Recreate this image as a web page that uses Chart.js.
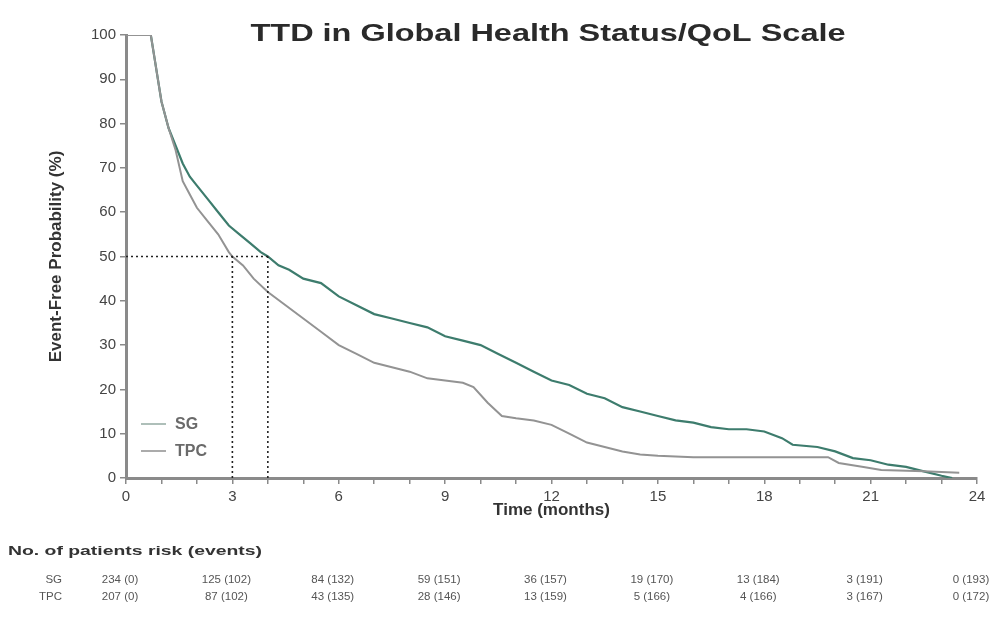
<!DOCTYPE html>
<html>
<head>
<meta charset="utf-8">
<script src="https://cdn.jsdelivr.net/npm/chart.js@4"></script>
<style>
  body { margin: 0; background: #fff; }
  canvas { display: block; }
</style>
</head>
<body>
<canvas id="ttdChart" width="1005" height="617"></canvas>
<script>
// Kaplan-Meier style curves (months, %)
const sgTime = [0, 0.7, 0.8, 0.9, 1.0, 1.2, 1.4, 1.6, 1.8, 2.0, 2.3, 2.6, 2.9, 3.2, 3.5, 3.8, 4.0, 4.3, 4.6, 5.0, 5.5, 6.0, 6.5, 7.0, 7.5, 8.0, 8.5, 9.0, 9.5, 10.0, 10.5, 11.0, 11.5, 12.0, 12.5, 13.0, 13.5, 14.0, 14.5, 15.0, 15.5, 16.0, 16.5, 17.0, 17.5, 18.0, 18.5, 18.8, 19.5, 20.0, 20.5, 21.0, 21.5, 22.0, 22.5, 23.0, 23.3];
const sgProb = [100, 100, 95, 90, 85, 79, 75, 71, 68, 66, 63, 60, 57, 55, 53, 51, 50, 48, 47, 45, 44, 41, 39, 37, 36, 35, 34, 32, 31, 30, 28, 26, 24, 22, 21, 19, 18, 16, 15, 14, 13, 12.5, 11.5, 11, 11, 10.5, 9, 7.5, 7, 6, 4.5, 4, 3, 2.5, 1.5, 0.5, 0];

const tpcTime = [0, 0.7, 0.8, 0.9, 1.0, 1.2, 1.4, 1.6, 1.8, 2.0, 2.3, 2.6, 2.9, 3.0, 3.3, 3.6, 4.0, 4.5, 5.0, 5.5, 6.0, 6.5, 7.0, 7.5, 8.0, 8.5, 9.0, 9.5, 9.8, 10.2, 10.6, 11.0, 11.5, 12.0, 12.5, 13.0, 13.5, 14.0, 14.5, 15.0, 16.0, 19.8, 20.1, 20.8, 21.3, 22.5, 23.5];
const tpcProb = [100, 100, 95, 90, 85, 79, 74, 67, 64, 61, 58, 55, 51, 50, 48, 45, 42, 39, 36, 33, 30, 28, 26, 25, 24, 22.5, 22, 21.5, 20.5, 17, 14, 13.5, 13, 12, 10, 8, 7, 6, 5.3, 5, 4.7, 4.7, 3.4, 2.5, 1.8, 1.5, 1.2];

// medians marked with dotted lines
const medianLevel = 50;
const medianTPC = 3;
const medianSG = 4;

// number at risk table
const riskTimes = [0, 3, 6, 9, 12, 15, 18, 21, 24];
const riskSG = ["234 (0)", "125 (102)", "84 (132)", "59 (151)", "36 (157)", "19 (170)", "13 (184)", "3 (191)", "0 (193)"];
const riskTPC = ["207 (0)", "87 (102)", "43 (135)", "28 (146)", "13 (159)", "5 (166)", "4 (166)", "3 (167)", "0 (172)"];

const FONT = "'Liberation Sans', Arial, sans-serif";
const sgColor = "#3d7c6d";
const tpcColor = "#939393";

function toPoints(xs, ys) {
  return xs.map((x, i) => ({ x: x, y: ys[i] }));
}

// draw text squeezed/stretched to a given width (the source image is wide)
function fitText(ctx, text, cx, cy, w) {
  const m = ctx.measureText(text).width;
  ctx.save();
  ctx.translate(cx, cy);
  ctx.scale(w / m, 1);
  ctx.fillText(text, 0, 0);
  ctx.restore();
}

const extrasPlugin = {
  id: "extras",
  afterDraw(chart) {
    const ctx = chart.ctx;
    const xs = chart.scales.x;
    ctx.save();
    ctx.textBaseline = "middle";

    // title
    ctx.fillStyle = "#2a2a2a";
    ctx.font = "bold 24px " + FONT;
    ctx.textAlign = "center";
    fitText(ctx, "TTD in Global Health Status/QoL Scale", 548, 34, 595);

    // legend inside plot
    ctx.font = "bold 16px " + FONT;
    ctx.textAlign = "left";
    const legend = [["SG", "#aebfb9", 424], ["TPC", "#ababab", 451]];
    legend.forEach(function (item) {
      ctx.strokeStyle = item[1];
      ctx.lineWidth = 2;
      ctx.beginPath();
      ctx.moveTo(141, item[2]);
      ctx.lineTo(166, item[2]);
      ctx.stroke();
      ctx.fillStyle = "#6a6a6a";
      ctx.fillText(item[0], 175, item[2] + 1);
    });

    // risk table
    ctx.fillStyle = "#333";
    ctx.font = "bold 13px " + FONT;
    ctx.textAlign = "left";
    fitText(ctx, "No. of patients risk (events)", 8, 551, 254);

    ctx.font = "11.5px " + FONT;
    ctx.fillStyle = "#555";
    ctx.textAlign = "right";
    ctx.fillText("SG", 62, 580);
    ctx.fillText("TPC", 62, 597);
    ctx.textAlign = "center";
    riskTimes.forEach(function (t, i) {
      const px = xs.getPixelForValue(t) - 6;
      ctx.fillText(riskSG[i], px, 580);
      ctx.fillText(riskTPC[i], px, 597);
    });
    ctx.restore();
  }
};

const dotted = {
  borderColor: "#222",
  borderWidth: 1.6,
  borderDash: [2, 3],
  pointRadius: 0,
  fill: false,
};

new Chart(document.getElementById("ttdChart").getContext("2d"), {
  type: "line",
  data: {
    datasets: [
      Object.assign({ label: "hline", data: [{ x: 0, y: medianLevel }, { x: medianSG, y: medianLevel }] }, dotted),
      Object.assign({ label: "vTPC", data: [{ x: medianTPC, y: 0 }, { x: medianTPC, y: medianLevel }] }, dotted),
      Object.assign({ label: "vSG", data: [{ x: medianSG, y: 0 }, { x: medianSG, y: medianLevel }] }, dotted),
      {
        label: "TPC",
        data: toPoints(tpcTime, tpcProb),
        borderColor: tpcColor,
        borderWidth: 2,
        pointRadius: 0,
        tension: 0,
        fill: false,
      },
      {
        label: "SG",
        data: toPoints(sgTime, sgProb),
        borderColor: sgColor,
        borderWidth: 2.2,
        pointRadius: 0,
        tension: 0,
        fill: false,
      },
    ],
  },
  options: {
    responsive: false,
    animation: false,
    layout: { padding: { left: 46, right: 28, top: 35, bottom: 95 } },
    plugins: {
      legend: { display: false },
      tooltip: { enabled: false },
    },
    scales: {
      x: {
        type: "linear",
        min: 0,
        max: 24,
        afterFit: function (scale) { scale.height = 44; },
        ticks: {
          stepSize: 1,
          autoSkip: false,
          maxRotation: 0,
          color: "#444",
          font: { family: FONT, size: 15 },
          padding: 4,
          callback: function (v) { return v % 3 === 0 ? v : ""; },
        },
        grid: { drawOnChartArea: false, tickLength: 6, color: "#8a8a8a", lineWidth: 1.5 },
        border: { color: "#8a8a8a", width: 3 },
        title: {
          display: true,
          text: "Time (months)",
          color: "#333",
          font: { family: FONT, size: 17, weight: "bold" },
          padding: { top: 0, bottom: 1 },
        },
      },
      y: {
        min: 0,
        max: 100,
        afterFit: function (scale) { scale.width = 80; },
        ticks: {
          stepSize: 10,
          color: "#444",
          font: { family: FONT, size: 15 },
          padding: 4,
        },
        grid: { drawOnChartArea: false, tickLength: 6, color: "#8a8a8a", lineWidth: 1.5 },
        border: { color: "#8a8a8a", width: 3 },
        title: {
          display: true,
          text: "Event-Free Probability (%)",
          color: "#333",
          font: { family: FONT, size: 17, weight: "bold" },
          padding: { top: 0, bottom: 2 },
        },
      },
    },
  },
  plugins: [extrasPlugin],
});
</script>
</body>
</html>
